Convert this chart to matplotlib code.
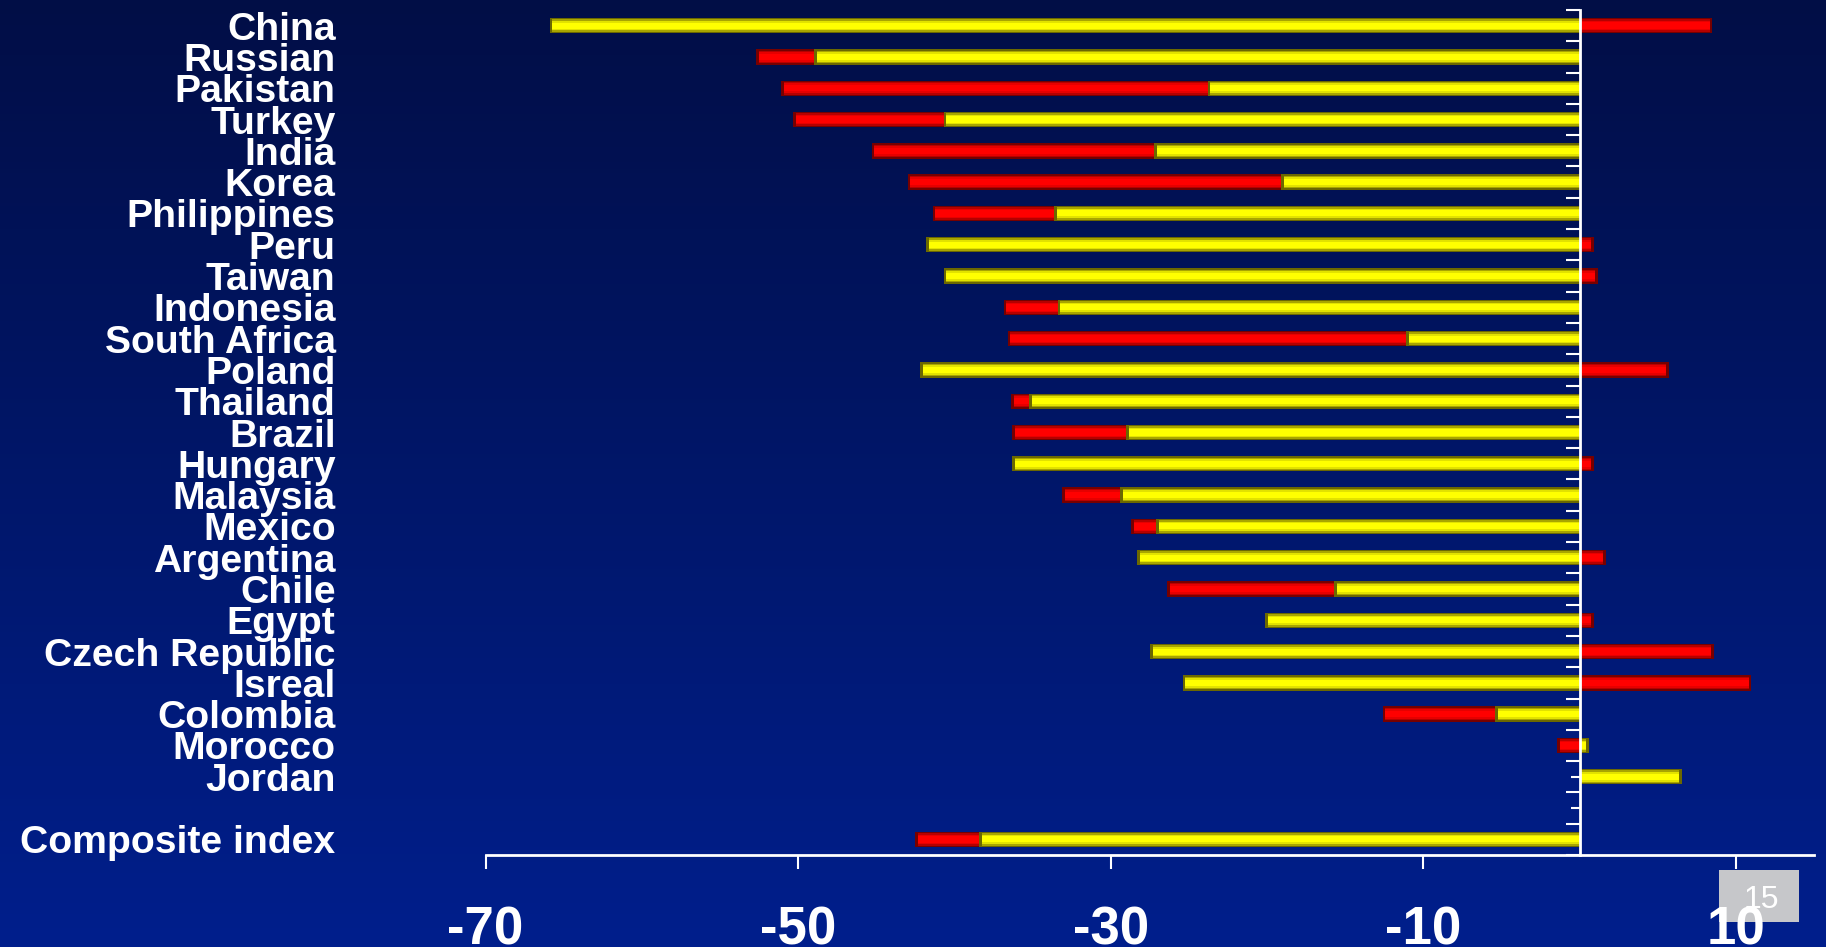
import numpy as np
import matplotlib
matplotlib.use("Agg")
import matplotlib.pyplot as plt
from matplotlib.patches import Rectangle
from matplotlib.transforms import blended_transform_factory

plt.rcParams['font.family'] = ['Liberation Sans', 'DejaVu Sans']
plt.rcParams['axes.unicode_minus'] = False

# ---- data -------------------------------------------------------------
countries = ["China", "Russian", "Pakistan", "Turkey", "India", "Korea",
             "Philippines", "Peru", "Taiwan", "Indonesia", "South Africa",
             "Poland", "Thailand", "Brazil", "Hungary", "Malaysia", "Mexico",
             "Argentina", "Chile", "Egypt", "Czech Republic", "Isreal",
             "Colombia", "Morocco", "Jordan"]
yellow_vals = [-65.9, -49.0, -23.8, -40.7, -27.2, -19.1, -33.6, -41.8, -40.7,
               -33.4, -11.1, -42.2, -35.2, -29.0, -36.3, -29.4, -27.1, -28.3,
               -15.7, -20.1, -27.5, -25.4, -5.4, 0.6, 6.55]
red_vals = [8.5, -52.7, -51.1, -50.3, -45.3, -43.0, -41.4, 0.9, 1.15, -36.85,
            -36.6, 5.7, -36.4, -36.3, 0.9, -33.1, -28.7, 1.7, -26.4, 0.9,
            8.6, 11.0, -12.6, -1.45, 0.0]
composite_label = "Composite index"
composite_yellow = -38.4
composite_red = -42.5

x_ticks = [-70, -50, -30, -10, 10]
x_ticklabels = ["-70", "-50", "-30", "-10", "10"]
slide_number = "15"

# ---- layout -----------------------------------------------------------
W, H = 1826, 947
fig = plt.figure(figsize=(W / 100, H / 100), dpi=100)

# vertical blue gradient background
bg = fig.add_axes([0, 0, 1, 1], zorder=-10)
top_c = np.array([0.005, 0.055, 0.275])
bot_c = np.array([0.0, 0.12, 0.55])
t = np.linspace(0, 1, 256)[:, None]
grad = top_c[None, :] * (1 - t) + bot_c[None, :] * t
bg.imshow(grad[:, None, :].repeat(2, axis=1), aspect='auto',
          extent=[0, 1, 0, 1], origin='upper')
bg.set_axis_off()

left, right = 485.6 / W, 1814 / W
top, bottom = 1 - 10 / H, 1 - 855 / H
ax = fig.add_axes([left, bottom, right - left, top - bottom])
ax.patch.set_alpha(0)

n = len(countries)
y_countries = np.arange(n)
y_comp = n + 1
n_slots = n + 2

bar_h = 0.49
yellow_pal = [(1.0, '#6b6800'), (0.82, '#a8a500'), (0.62, '#e2e200'), (0.40, '#ffff00')]
red_pal = [(1.0, '#760000'), (0.82, '#b50000'), (0.62, '#e60000'), (0.42, '#ff0000')]


def cylinder_bars(ypos, vals, palette, z, cap=0.18):
    vals = np.asarray(vals, dtype=float)
    for i, (frac, col) in enumerate(palette):
        w = vals if i == 0 else vals - np.sign(vals) * np.minimum(cap, np.abs(vals))
        ax.barh(ypos, w, height=bar_h * frac, color=col, linewidth=0, zorder=z + i * 0.01)


all_y = np.append(y_countries, y_comp)
cylinder_bars(all_y, red_vals + [composite_red], red_pal, 2)
cylinder_bars(all_y, yellow_vals + [composite_yellow], yellow_pal, 3)

ax.set_xlim(-70, 15)
ax.set_ylim(n_slots - 0.5, -0.5)

for s in ['top', 'right']:
    ax.spines[s].set_visible(False)
ax.spines['left'].set_position(('data', 0))
ax.spines['left'].set_color('white')
ax.spines['left'].set_linewidth(2)
ax.spines['left'].set_zorder(5)
ax.spines['bottom'].set_color('white')
ax.spines['bottom'].set_linewidth(2)

ax.set_xticks(x_ticks)
ax.set_xticklabels(x_ticklabels, fontsize=38, fontweight='bold', color='white')
ax.tick_params(axis='x', direction='out', length=10, width=1.5, color='white', pad=26)

ax.set_yticks(np.arange(n_slots + 1) - 0.5)
ax.set_yticks(np.arange(n_slots), minor=True)
ax.set_yticklabels([])
ax.tick_params(axis='y', which='major', direction='out', length=10, width=1.5,
               color='white', zorder=6)
ax.tick_params(axis='y', which='minor', direction='out', length=6.5, width=1.5,
               color='white')
for tk in ax.yaxis.get_major_ticks() + ax.yaxis.get_minor_ticks():
    tk.tick1line.set_zorder(6)

# category labels on the far left
trans = blended_transform_factory(ax.transAxes, ax.transData)
lab_x = (335.5 / W - left) / (right - left)
for yy, name in zip(all_y, countries + [composite_label]):
    ax.text(lab_x, yy, name, transform=trans, ha='right', va='center_baseline',
            fontsize=28.2, fontweight='bold', color='white', clip_on=False)

# slide number badge
fig.patches.append(Rectangle((1719 / W, 1 - 921.7 / H), 80 / W, 51.7 / H,
                             transform=fig.transFigure, facecolor='#c6c7ca',
                             edgecolor='none', zorder=-5))
fig.text(1761 / W, 1 - 900 / H, slide_number, ha='center', va='center',
         fontsize=23, color='white', zorder=-4)

fig.savefig("out.png", dpi=100)
